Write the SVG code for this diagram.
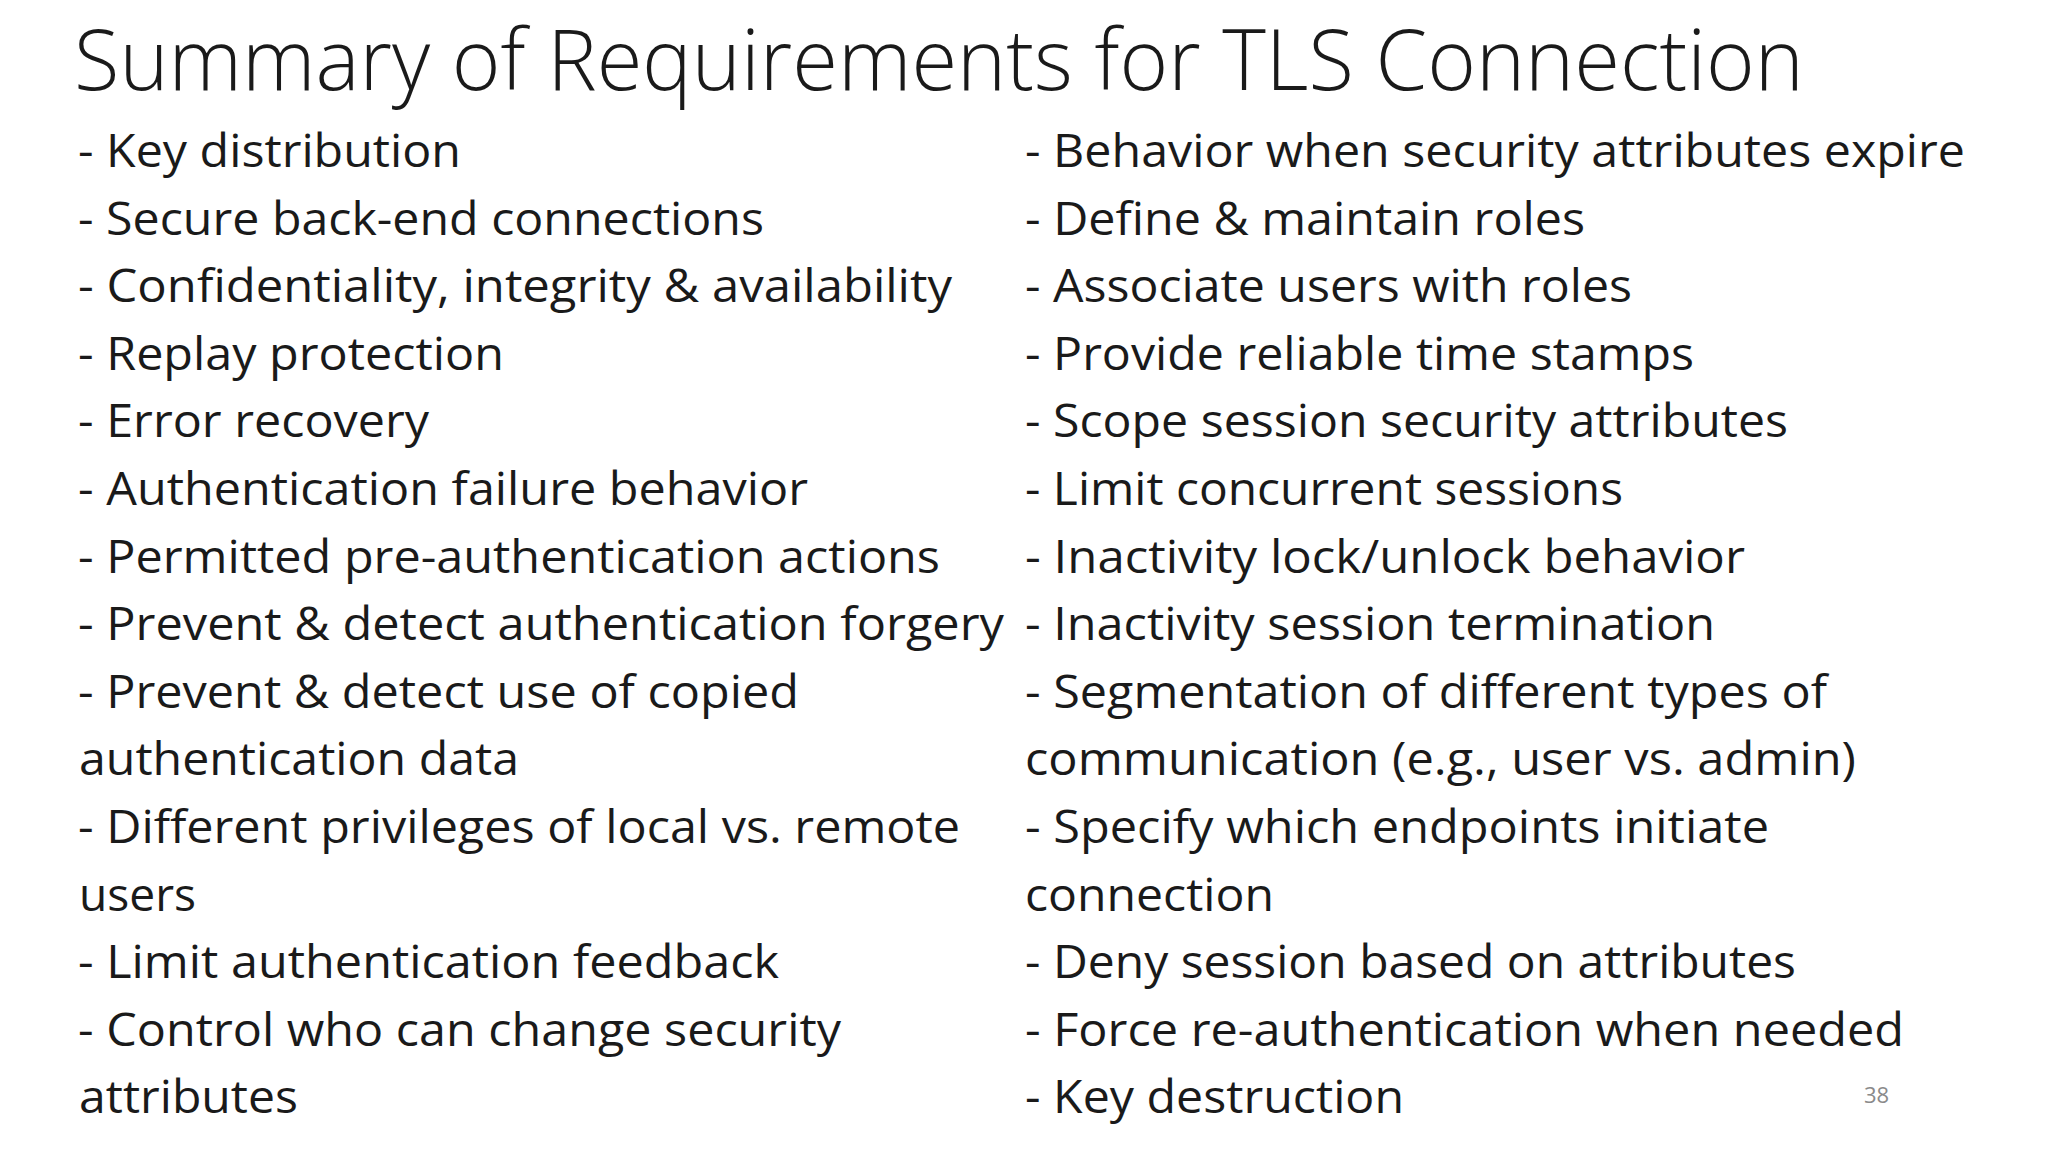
<svg xmlns="http://www.w3.org/2000/svg" width="2048" height="1152" viewBox="0 0 2048 1152">
<style>
text{font-family:"Open Sans","Liberation Sans",sans-serif;fill:#1a1a1a}
.b{font-size:45px}
.t{font-size:85px;font-weight:300}
.n{font-size:22px;fill:#8a8a8a}
</style>
<rect width="2048" height="1152" fill="#fff"/>
<g id="title"><text class="t" x="74" y="90" textLength="1730" lengthAdjust="spacingAndGlyphs">Summary of Requirements for TLS Connection</text></g>
<g id="left">
<text class="b" x="78" y="167" textLength="383" lengthAdjust="spacingAndGlyphs">- Key distribution</text>
<text class="b" x="78" y="235" textLength="686" lengthAdjust="spacingAndGlyphs">- Secure back-end connections</text>
<text class="b" x="78" y="302" textLength="874" lengthAdjust="spacingAndGlyphs">- Confidentiality, integrity &amp; availability</text>
<text class="b" x="78" y="370" textLength="426" lengthAdjust="spacingAndGlyphs">- Replay protection</text>
<text class="b" x="78" y="437" textLength="351" lengthAdjust="spacingAndGlyphs">- Error recovery</text>
<text class="b" x="78" y="505" textLength="730" lengthAdjust="spacingAndGlyphs">- Authentication failure behavior</text>
<text class="b" x="78" y="573" textLength="862" lengthAdjust="spacingAndGlyphs">- Permitted pre-authentication actions</text>
<text class="b" x="78" y="640" textLength="926" lengthAdjust="spacingAndGlyphs">- Prevent &amp; detect authentication forgery</text>
<text class="b" x="78" y="708" textLength="721" lengthAdjust="spacingAndGlyphs">- Prevent &amp; detect use of copied</text>
<text class="b" x="79" y="775" textLength="440" lengthAdjust="spacingAndGlyphs">authentication data</text>
<text class="b" x="78" y="843" textLength="882" lengthAdjust="spacingAndGlyphs">- Different privileges of local vs. remote</text>
<text class="b" x="79" y="911" textLength="117" lengthAdjust="spacingAndGlyphs">users</text>
<text class="b" x="78" y="978" textLength="701" lengthAdjust="spacingAndGlyphs">- Limit authentication feedback</text>
<text class="b" x="78" y="1046" textLength="763" lengthAdjust="spacingAndGlyphs">- Control who can change security</text>
<text class="b" x="79" y="1113" textLength="219" lengthAdjust="spacingAndGlyphs">attributes</text>
</g>
<g id="right">
<text class="b" x="1025" y="167" textLength="940" lengthAdjust="spacingAndGlyphs">- Behavior when security attributes expire</text>
<text class="b" x="1025" y="235" textLength="560" lengthAdjust="spacingAndGlyphs">- Define &amp; maintain roles</text>
<text class="b" x="1025" y="302" textLength="607" lengthAdjust="spacingAndGlyphs">- Associate users with roles</text>
<text class="b" x="1025" y="370" textLength="669" lengthAdjust="spacingAndGlyphs">- Provide reliable time stamps</text>
<text class="b" x="1025" y="437" textLength="763" lengthAdjust="spacingAndGlyphs">- Scope session security attributes</text>
<text class="b" x="1025" y="505" textLength="598" lengthAdjust="spacingAndGlyphs">- Limit concurrent sessions</text>
<text class="b" x="1025" y="573" textLength="720" lengthAdjust="spacingAndGlyphs">- Inactivity lock/unlock behavior</text>
<text class="b" x="1025" y="640" textLength="690" lengthAdjust="spacingAndGlyphs">- Inactivity session termination</text>
<text class="b" x="1025" y="708" textLength="802" lengthAdjust="spacingAndGlyphs">- Segmentation of different types of</text>
<text class="b" x="1025" y="775" textLength="831" lengthAdjust="spacingAndGlyphs">communication (e.g., user vs. admin)</text>
<text class="b" x="1025" y="843" textLength="744" lengthAdjust="spacingAndGlyphs">- Specify which endpoints initiate</text>
<text class="b" x="1025" y="911" textLength="249" lengthAdjust="spacingAndGlyphs">connection</text>
<text class="b" x="1025" y="978" textLength="771" lengthAdjust="spacingAndGlyphs">- Deny session based on attributes</text>
<text class="b" x="1025" y="1046" textLength="879" lengthAdjust="spacingAndGlyphs">- Force re-authentication when needed</text>
<text class="b" x="1025" y="1113" textLength="379" lengthAdjust="spacingAndGlyphs">- Key destruction</text>
</g>
<g id="page"><text class="n" x="1864" y="1103">38</text></g>
</svg>
